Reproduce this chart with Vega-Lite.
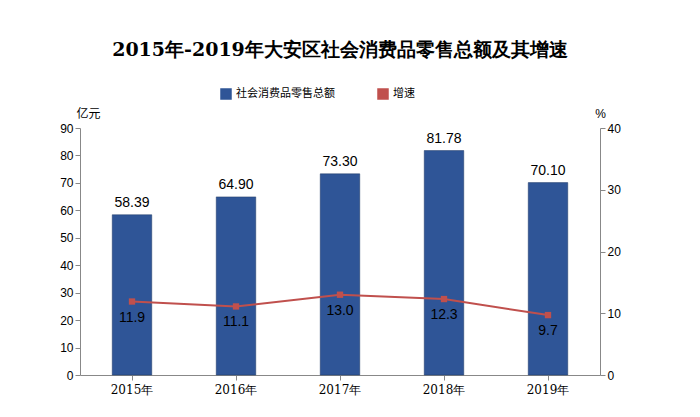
{
  "$schema": "https://vega.github.io/schema/vega-lite/v6.json",
  "autosize": "none",
  "width": 520,
  "height": 247,
  "padding": {"left": 80, "top": 128, "right": 100, "bottom": 42},
  "background": "white",
  "title": {"text": "2015年-2019年大安区社会消费品零售总额及其增速", "font": "DejaVu Serif", "fontSize": 19, "fontWeight": "bold", "color": "#000", "anchor": "middle", "offset": 28},
  "data": {"values": [
    {"year": "2015年", "total": 58.39, "growth": 11.9},
    {"year": "2016年", "total": 64.90, "growth": 11.1},
    {"year": "2017年", "total": 73.30, "growth": 13.0},
    {"year": "2018年", "total": 81.78, "growth": 12.3},
    {"year": "2019年", "total": 70.10, "growth": 9.7}
  ]},
  "encoding": {
    "x": {"field": "year", "type": "ordinal", "title": null, "sort": null,
      "scale": {"paddingInner": 0.62, "paddingOuter": 0.31},
      "axis": {"labelAngle": 0, "labelFont": "DejaVu Serif", "labelFontSize": 12, "labelColor": "#000", "domainColor": "#888", "tickColor": "#888", "labelPadding": 4}}
  },
  "layer": [
    {
      "encoding": {
        "y": {"field": "total", "type": "quantitative", "scale": {"domain": [0, 90]},
          "axis": {"values": [0,10,20,30,40,50,60,70,80,90], "tickCount": 10, "grid": false, "title": "亿元", "titleAngle": 0, "titleX": 8, "titleY": -8, "titleFont": "Noto Sans CJK SC", "titleFontWeight": "normal", "titleFontSize": 12, "labelFont": "Liberation Sans", "labelFontSize": 12, "labelColor": "#000", "domainColor": "#888", "tickColor": "#888"}}
      },
      "layer": [
        {"mark": {"type": "bar", "stroke": "#1f3864", "strokeWidth": 0.5},
         "encoding": {
           "color": {"datum": "社会消费品零售总额", "type": "nominal",
             "scale": {"domain": ["社会消费品零售总额", "增速"], "range": ["#2f5597", "#c0504d"]},
             "legend": {"orient": "none", "legendX": 140, "legendY": -40, "direction": "horizontal", "title": null, "labelFont": "Noto Sans CJK SC", "labelFontSize": 11, "symbolType": "square", "columnPadding": 40}}
         }},
        {"mark": {"type": "text", "dy": -12, "font": "Liberation Sans", "fontSize": 14, "color": "#000"},
         "encoding": {"text": {"field": "total", "format": ".2f"}}}
      ]
    },
    {
      "encoding": {
        "y": {"field": "growth", "type": "quantitative", "scale": {"domain": [0, 40]},
          "axis": {"orient": "right", "values": [0,5,10,15,20,25,30,35,40], "tickCount": 8, "grid": false, "title": "%", "titleAngle": 0, "titleX": 0, "titleY": -8, "titleFontWeight": "normal", "titleFontSize": 12, "labelFont": "Liberation Sans", "labelFontSize": 12, "labelColor": "#000", "domainColor": "#888", "tickColor": "#888"}}
      },
      "layer": [
        {"mark": {"type": "line", "strokeWidth": 2, "point": {"shape": "square", "size": 40, "filled": true, "color": "#c0504d"}},
         "encoding": {"color": {"datum": "增速", "type": "nominal"}}},
        {"mark": {"type": "text", "dy": 16, "font": "Liberation Sans", "fontSize": 14, "color": "#000"},
         "encoding": {"text": {"field": "growth", "format": ".1f"}}}
      ]
    }
  ],
  "resolve": {"scale": {"y": "independent"}},
  "config": {"view": {"stroke": null}}
}
